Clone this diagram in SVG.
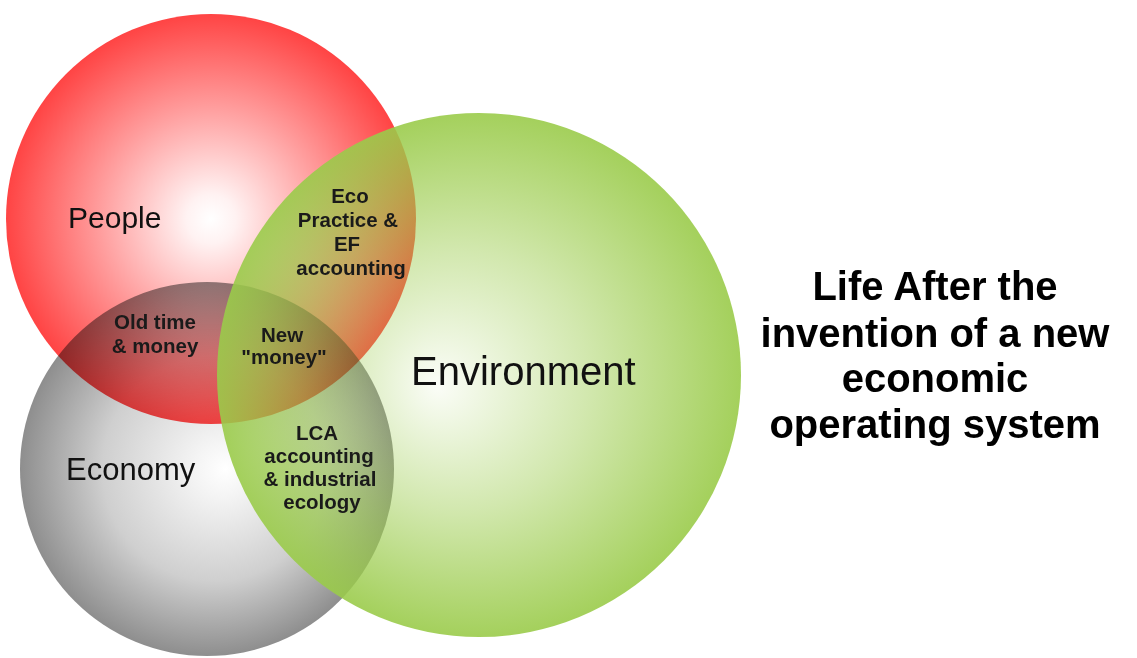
<svg xmlns="http://www.w3.org/2000/svg" width="1137" height="658" viewBox="0 0 1137 658">
<defs>
<radialGradient id="gRed" cx="0.5" cy="0.5" r="0.5" fx="0.5" fy="0.5">
<stop offset="0" stop-color="#ffffff"/>
<stop offset="0.12" stop-color="#fff2f2"/>
<stop offset="0.55" stop-color="#ff9c9c"/>
<stop offset="1" stop-color="#ff4444"/>
</radialGradient>
<radialGradient id="gGray" cx="0.5" cy="0.5" r="0.5" fx="0.55" fy="0.5">
<stop offset="0" stop-color="#ffffff"/>
<stop offset="0.15" stop-color="#f4f4f4"/>
<stop offset="0.6" stop-color="#cfcfcf"/>
<stop offset="1" stop-color="#8e8e8e"/>
</radialGradient>
<radialGradient id="gGreen" cx="0.5" cy="0.5" r="0.5" fx="0.42" fy="0.52">
<stop offset="0" stop-color="#9acb4a" stop-opacity="0.04"/>
<stop offset="0.5" stop-color="#9acb4a" stop-opacity="0.45"/>
<stop offset="1" stop-color="#9acb4a" stop-opacity="0.9"/>
</radialGradient>
</defs>
<style>
.big{font-family:"Liberation Sans",Arial,sans-serif;fill:#111}
.lab{font-family:"Liberation Sans",Arial,sans-serif;font-weight:bold;font-size:20.5px;fill:#1a1a1a;text-anchor:middle}
.title{font-family:"Liberation Sans",Arial,sans-serif;font-weight:bold;font-size:40px;fill:#000;text-anchor:middle}
</style>
<rect width="1137" height="658" fill="#ffffff"/>
<g id="people">
<circle cx="211" cy="219" r="205" fill="url(#gRed)"/>
</g>
<g id="economy">
<circle cx="207" cy="469" r="187" fill="url(#gGray)" style="mix-blend-mode:multiply"/>
</g>
<g id="environment">
<circle cx="479" cy="375" r="262" fill="url(#gGreen)"/>
</g>
<g id="connectors"/>
<g id="labels">
<text class="big" x="68" y="228" font-size="30">People</text>
<text class="big" x="66" y="480" font-size="31">Economy</text>
<text class="big" x="411" y="385" font-size="40">Environment</text>
<g id="eco-practice">
<text class="lab" x="350" y="203">Eco</text>
<text class="lab" x="348" y="227">Practice &amp;</text>
<text class="lab" x="347" y="251">EF</text>
<text class="lab" x="351" y="275">accounting</text>
</g>
<g id="old-time">
<text class="lab" x="155" y="329">Old time</text>
<text class="lab" x="155" y="353">&amp; money</text>
</g>
<g id="new-money">
<text class="lab" x="282" y="342">New</text>
<text class="lab" x="284" y="364">"money"</text>
</g>
<g id="lca">
<text class="lab" x="317" y="440">LCA</text>
<text class="lab" x="319" y="463">accounting</text>
<text class="lab" x="320" y="486">&amp; industrial</text>
<text class="lab" x="322" y="509">ecology</text>
</g>
</g>
<g id="title">
<text class="title" x="935" y="300">Life After the</text>
<text class="title" x="935" y="347">invention of a new</text>
<text class="title" x="935" y="392">economic</text>
<text class="title" x="935" y="438">operating system</text>
</g>
</svg>
